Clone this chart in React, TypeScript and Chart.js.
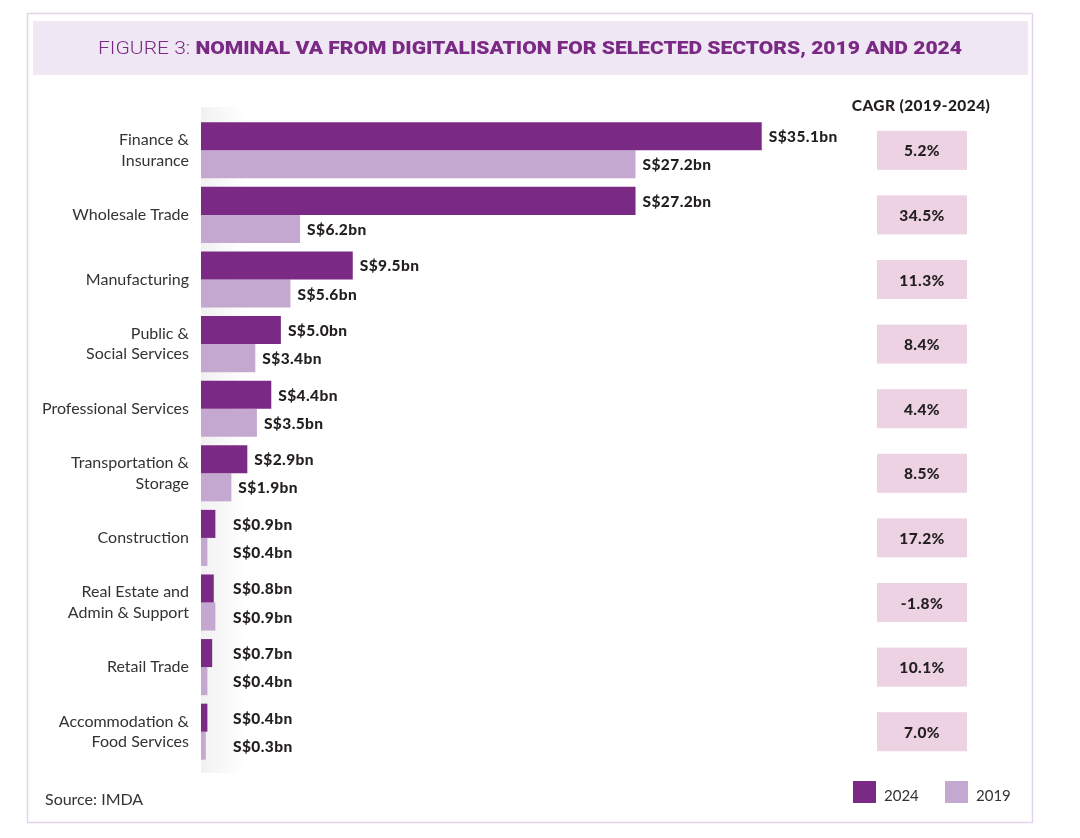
import React, { useEffect, useRef } from 'react';
import { Chart, registerables } from 'chart.js';

Chart.register(...registerables);

const W = 1080;
const H = 838;

const sectors: (string | string[])[] = [
  ['Finance &', 'Insurance'],
  'Wholesale Trade',
  'Manufacturing',
  ['Public &', 'Social Services'],
  'Professional Services',
  ['Transportation &', 'Storage'],
  'Construction',
  ['Real Estate and', 'Admin & Support'],
  'Retail Trade',
  ['Accommodation &', 'Food Services'],
];
const va2024 = [35.1, 27.2, 9.5, 5.0, 4.4, 2.9, 0.9, 0.8, 0.7, 0.4];
const va2019 = [27.2, 6.2, 5.6, 3.4, 3.5, 1.9, 0.4, 0.9, 0.4, 0.3];
const cagr = ['5.2%', '34.5%', '11.3%', '8.4%', '4.4%', '8.5%', '17.2%', '-1.8%', '10.1%', '7.0%'];
const seriesNames = ['2024', '2019'];

const DARK = '#7a2984';
const LIGHT = '#c4a8d0';
const BOX = '#ecd2e2';
const BAND = '#f0e7f4';
const FRAME = '#e2d4ea';
const TEXT = '#231f20';
const FONT = 'Lato, "Open Sans", sans-serif';

const fmt = (v: number) => `S$${v.toFixed(1)}bn`;

const decor = {
  id: 'decor',
  beforeDraw(chart: any) {
    const ctx: CanvasRenderingContext2D = chart.ctx;
    ctx.save();
    ctx.fillStyle = '#ffffff';
    ctx.fillRect(0, 0, W, H);

    // outer frame
    ctx.strokeStyle = FRAME;
    ctx.lineWidth = 1.5;
    ctx.strokeRect(27.5, 13.5, 1005, 809);

    // title band
    ctx.fillStyle = BAND;
    ctx.fillRect(33, 21, 995, 54);

    // title, squeezed to the band's text width
    const t1 = 'FIGURE 3: ';
    const t2 = 'NOMINAL VA FROM DIGITALISATION FOR SELECTED SECTORS, 2019 AND 2024';
    ctx.font = '300 19px Roboto';
    const w1 = ctx.measureText(t1).width;
    ctx.font = '900 19px Roboto';
    const w2 = ctx.measureText(t2).width;
    const sx = 864 / (w1 + w2);
    ctx.translate(98, 54);
    ctx.scale(sx, 1);
    ctx.fillStyle = DARK;
    ctx.textBaseline = 'alphabetic';
    ctx.textAlign = 'left';
    ctx.font = '300 19px Roboto';
    ctx.fillText(t1, 0, 0);
    ctx.font = '900 19px Roboto';
    ctx.fillText(t2, w1, 0);
    ctx.restore();

    // soft shade along the category axis
    const { left, top, bottom } = chart.chartArea;
    ctx.save();
    const g = ctx.createLinearGradient(left, 0, left + 45, 0);
    g.addColorStop(0, 'rgba(0,0,0,0.055)');
    g.addColorStop(1, 'rgba(0,0,0,0)');
    ctx.fillStyle = g;
    ctx.fillRect(left, top - 11, 45, bottom - top + 20);
    ctx.restore();
  },
  afterDatasetsDraw(chart: any) {
    const ctx: CanvasRenderingContext2D = chart.ctx;
    const { left } = chart.chartArea;
    ctx.save();

    // value labels
    ctx.font = `900 15.5px ${FONT}`;
    (ctx as any).letterSpacing = '0.4px';
    ctx.fillStyle = TEXT;
    ctx.textBaseline = 'middle';
    ctx.textAlign = 'left';
    chart.data.datasets.forEach((ds: any, di: number) => {
      const meta = chart.getDatasetMeta(di);
      meta.data.forEach((el: any, i: number) => {
        const x = Math.max(el.x + 7, left + 32);
        ctx.fillText(fmt(ds.data[i]), x, el.y + 1);
      });
    });

    // CAGR column
    const yScale = chart.scales.y;
    ctx.font = `900 15.5px ${FONT}`;
    ctx.textAlign = 'center';
    ctx.fillText('CAGR (2019-2024)', 921, 106);
    ctx.font = `900 15.5px ${FONT}`;
    cagr.forEach((c, i) => {
      const cy = yScale.getPixelForValue(i);
      ctx.fillStyle = BOX;
      ctx.fillRect(877, cy - 19.5, 90, 39);
      ctx.fillStyle = TEXT;
      ctx.fillText(c, 922, cy + 1);
    });

    // legend
    (ctx as any).letterSpacing = '0px';
    ctx.textAlign = 'left';
    ctx.font = `400 15px ${FONT}`;
    const legendX = [853, 945];
    seriesNames.forEach((n, i) => {
      ctx.fillStyle = i === 0 ? DARK : LIGHT;
      ctx.fillRect(legendX[i], 781, 23, 22);
      ctx.fillStyle = '#333333';
      ctx.fillText(n, legendX[i] + 31, 796);
    });

    // source
    ctx.font = `400 16px ${FONT}`;
    ctx.fillText('Source: IMDA', 45, 800);
    ctx.restore();
  },
};

export default function App() {
  const ref = useRef<HTMLCanvasElement | null>(null);

  useEffect(() => {
    if (!ref.current) return;
    const chart = new Chart(ref.current, {
      type: 'bar',
      data: {
        labels: sectors,
        datasets: [
          {
            label: seriesNames[0],
            data: va2024,
            backgroundColor: DARK,
            categoryPercentage: 0.868,
            barPercentage: 1,
          },
          {
            label: seriesNames[1],
            data: va2019,
            backgroundColor: LIGHT,
            categoryPercentage: 0.868,
            barPercentage: 1,
          },
        ],
      },
      options: {
        indexAxis: 'y',
        responsive: false,
        animation: false,
        devicePixelRatio: 1,
        layout: { padding: { left: 20, right: 240, top: 118, bottom: 74 } },
        plugins: {
          legend: { display: false },
          tooltip: { enabled: false },
          title: { display: false },
        },
        scales: {
          x: {
            display: false,
            min: 0,
            max: 40,
          },
          y: {
            afterFit: (scale: any) => {
              scale.width = 181;
            },
            grid: { display: false, drawTicks: false },
            border: { display: false },
            ticks: {
              padding: 12,
              color: '#333333',
              font: { family: FONT, size: 16, lineHeight: 1.27 },
            },
          },
        },
      },
      plugins: [decor],
    });
    return () => chart.destroy();
  }, []);

  return (
    <div style={{ position: 'absolute', left: 0, top: 0, width: W, height: H }}>
      <canvas ref={ref} width={W} height={H} style={{ width: W, height: H }} />
    </div>
  );
}
